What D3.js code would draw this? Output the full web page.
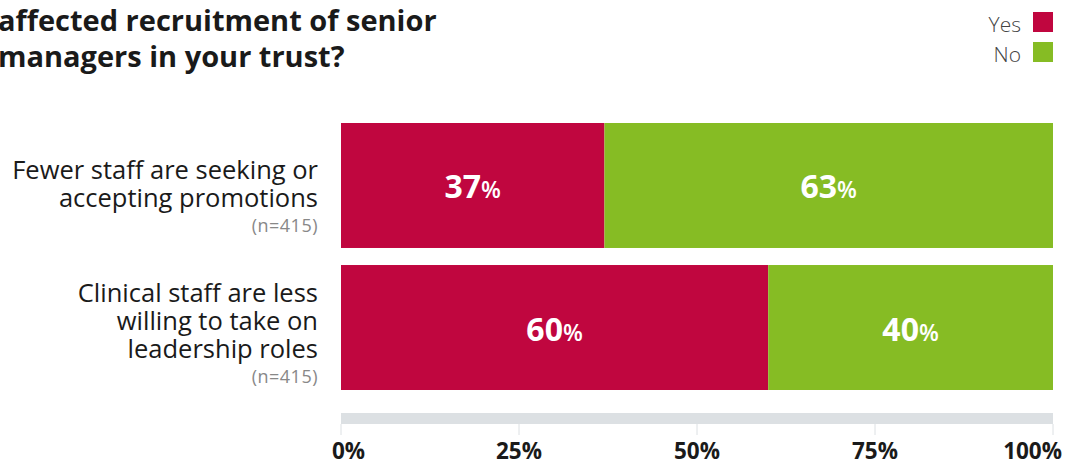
<!DOCTYPE html>
<html>
<head>
<meta charset="utf-8">
<script src="https://cdn.jsdelivr.net/npm/d3@7"></script>
<style>
  html, body { margin: 0; padding: 0; background: #fff; }
  svg { display: block; font-family: "Open Sans", "Noto Sans", sans-serif; }
</style>
</head>
<body>
<svg id="chart" width="1078" height="462"></svg>
<script>
// Survey responses, share of respondents
const categories = [
  ["Fewer staff are seeking or", "accepting promotions"],
  ["Clinical staff are less", "willing to take on", "leadership roles"]
];
const sampleSizes = ["(n=415)", "(n=415)"];
const yesValues = [37, 60];
const noValues = [63, 40];
const seriesNames = ["Yes", "No"];
const tickValues = [0, 25, 50, 75, 100];
const titleLines = ["affected recruitment of senior", "managers in your trust?"];

const colors = { Yes: "#C0063F", No: "#86BC24" };

const svg = d3.select("#chart");

const x = d3.scaleLinear().domain([0, 100]).range([341, 1053]);
const y = d3.scaleBand().domain(d3.range(categories.length)).range([123, 390]).paddingInner(0.12);

// Title (cropped at the left edge)
svg.append("g").selectAll("text").data(titleLines).join("text")
  .attr("x", -2).attr("y", (d, i) => 31 + i * 36)
  .attr("font-size", 29).attr("font-weight", 700).attr("fill", "#1a1a1a")
  .text(d => d);

// Legend
const legend = svg.append("g").selectAll("g").data(seriesNames).join("g")
  .attr("transform", (d, i) => `translate(0, ${12 + i * 30})`);
legend.append("rect").attr("x", 1033).attr("y", 0).attr("width", 20).attr("height", 20)
  .attr("fill", d => colors[d]);
legend.append("text").attr("x", 1021).attr("y", 20).attr("text-anchor", "end")
  .attr("font-size", 21).attr("font-weight", 300).attr("fill", "#444").text(d => d);

// Stacked data
const rows = categories.map((c, i) => ({ i, Yes: yesValues[i], No: noValues[i] }));
const stacked = d3.stack().keys(seriesNames)(rows);

// Axis band and ticks
const axisG = svg.append("g");
axisG.append("rect").attr("x", x(0)).attr("y", 413).attr("width", x(100) - x(0)).attr("height", 11)
  .attr("fill", "#DCE0E3");
axisG.selectAll("line").data(tickValues).join("line")
  .attr("x1", d => x(d)).attr("x2", d => x(d)).attr("y1", 424).attr("y2", 435)
  .attr("stroke", "#DCE0E3").attr("stroke-width", 1);
axisG.selectAll("text").data(tickValues).join("text")
  .attr("x", d => x(d)).attr("y", 459)
  .attr("text-anchor", d => d === 0 ? "start" : d === 100 ? "end" : "middle")
  .attr("dx", d => d === 0 ? -9 : d === 100 ? 9 : 0)
  .attr("font-size", 22.5).attr("font-weight", 700).attr("fill", "#1a1a1a")
  .text(d => d + "%");

// Bars
const layers = svg.append("g").selectAll("g").data(stacked).join("g")
  .attr("fill", d => colors[d.key]);
layers.selectAll("rect").data(d => d).join("rect")
  .attr("x", d => x(d[0])).attr("width", d => x(d[1]) - x(d[0]))
  .attr("y", d => y(d.data.i)).attr("height", y.bandwidth());

// Value labels
const labels = svg.append("g").selectAll("g").data(stacked).join("g");
const lbl = labels.selectAll("text").data(d => d).join("text")
  .attr("x", d => (x(d[0]) + x(d[1])) / 2)
  .attr("y", d => y(d.data.i) + y.bandwidth() / 2 + 13)
  .attr("text-anchor", "middle").attr("fill", "#fff");
lbl.append("tspan").attr("font-size", 32).attr("font-weight", 700).text(d => d[1] - d[0]);
lbl.append("tspan").attr("font-size", 23).attr("font-weight", 600).text("%");

// Category labels: one text per line, then the sample size
const catG = svg.append("g");
categories.forEach((lines, i) => {
  const n = lines.length;
  const center = y(i) + y.bandwidth() / 2;
  const first = center + 32.5 - 19.5 * n;
  lines.forEach((l, k) => {
    catG.append("text").attr("x", 318).attr("y", first + k * 28)
      .attr("text-anchor", "end").attr("font-size", 25.5).attr("fill", "#1a1a1a")
      .text(l);
  });
  catG.append("text").attr("x", 318).attr("y", first + (n - 1) * 28 + 25)
    .attr("text-anchor", "end").attr("font-size", 18).attr("fill", "#888")
    .attr("letter-spacing", 0.5)
    .text(sampleSizes[i]);
});
</script>
</body>
</html>
